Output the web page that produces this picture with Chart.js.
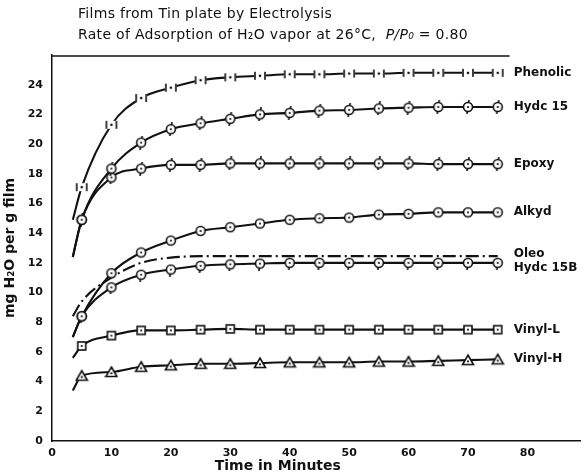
<!DOCTYPE html>
<html>
<head>
<meta charset="utf-8">
<script src="https://cdn.jsdelivr.net/npm/chart.js@4"></script>
<style>
  html, body { margin: 0; padding: 0; background: #fff; }
  #wrap { position: relative; width: 588px; height: 476px; }
  canvas { position: absolute; left: 0; top: 0; }
  .ttl { position: absolute; left: 78px; font-family: "DejaVu Sans", sans-serif; font-size: 14px; color: #111; white-space: nowrap; letter-spacing: 0.3px; }
</style>
</head>
<body>
<div id="wrap">
  <canvas id="c" width="588" height="476"></canvas>
  <div class="ttl" style="top:5px;">Films from Tin plate by Electrolysis</div>
  <div class="ttl" style="top:26px;">Rate of Adsorption of H₂O vapor at 26°C,&nbsp; <i>P/P₀</i> = 0.80</div>
</div>
<script>
// ---- data ----
const times    = [3.5, 5, 10, 15, 20, 25, 30, 35, 40, 45, 50, 55, 60, 65, 70, 75];
const phenolic = [14.9, 17.1, 21.3, 23.1, 23.8, 24.3, 24.5, 24.6, 24.7, 24.7, 24.75, 24.75, 24.8, 24.8, 24.8, 24.8];
const hydc15   = [12.4, 14.9, 18.35, 20.1, 21.0, 21.4, 21.7, 22.0, 22.1, 22.25, 22.3, 22.4, 22.45, 22.5, 22.5, 22.5];
const epoxy    = [12.4, 14.9, 17.75, 18.35, 18.6, 18.6, 18.7, 18.7, 18.7, 18.7, 18.7, 18.7, 18.7, 18.65, 18.65, 18.65];
const alkyd    = [7.0, 8.4, 11.3, 12.7, 13.5, 14.15, 14.4, 14.65, 14.9, 15.0, 15.05, 15.25, 15.3, 15.4, 15.4, 15.4];
const oleo     = [8.4, 9.4, 11.0, 12.0, 12.35, 12.45, 12.45, 12.45, 12.45, 12.45, 12.45, 12.45, 12.45, 12.45, 12.45, 12.45];
const hydc15b  = [7.0, 8.4, 10.35, 11.2, 11.55, 11.8, 11.9, 11.95, 12.0, 12.0, 12.0, 12.0, 12.0, 12.0, 12.0, 12.0];
const vinylL   = [5.6, 6.4, 7.1, 7.45, 7.45, 7.5, 7.55, 7.5, 7.5, 7.5, 7.5, 7.5, 7.5, 7.5, 7.5, 7.5];
const vinylH   = [3.4, 4.4, 4.65, 5.0, 5.1, 5.2, 5.2, 5.25, 5.3, 5.3, 5.3, 5.35, 5.35, 5.4, 5.45, 5.5];
const seriesNames = ["Phenolic", "Hydc 15", "Epoxy", "Alkyd", "Oleo", "Hydc 15B", "Vinyl-L", "Vinyl-H"];
const yTicks = [0, 2, 4, 6, 8, 10, 12, 14, 16, 18, 20, 22, 24];
const xTicks = [0, 10, 20, 30, 40, 50, 60, 70, 80];

// ---- styles ----
const INK = '#111';
const labelDy = [0, 0, 0, 0, -2, 5, 0, 0];

function makeIcon(kind) {
  const c = document.createElement('canvas');
  c.width = 14; c.height = 14;
  const g = c.getContext('2d');
  g.strokeStyle = INK; g.fillStyle = '#fff'; g.lineWidth = 1.6;
  const m = 7;
  if (kind === 'phen') {
    g.fillRect(1, 3, 12, 8);
    g.beginPath(); g.moveTo(2, 3); g.lineTo(2, 11); g.moveTo(12, 3); g.lineTo(12, 11); g.stroke();
    g.fillStyle = INK; g.beginPath(); g.arc(m, m, 1.3, 0, Math.PI * 2); g.fill();
    return c;
  }
  if (kind === 'square') {
    g.fillRect(3, 3, 8, 8); g.strokeRect(3, 3, 8, 8);
  } else if (kind === 'tri') {
    g.beginPath(); g.moveTo(m, 2); g.lineTo(12.5, 11.5); g.lineTo(1.5, 11.5); g.closePath(); g.fill(); g.stroke();
  } else {
    g.beginPath(); g.arc(m, m, 4.5, 0, Math.PI * 2); g.fill(); g.stroke();
    g.beginPath();
    if (kind === 'circTicks' || kind === 'circTickTop') { g.moveTo(m + 0.5, 2.5); g.lineTo(m + 1.2, 0); }
    if (kind === 'circTicks' || kind === 'circTickBottom') { g.moveTo(m - 0.5, 11.5); g.lineTo(m - 1.2, 14); }
    g.stroke();
  }
  g.fillStyle = INK; g.beginPath(); g.arc(m, kind === 'tri' ? 8.3 : m, 1.1, 0, Math.PI * 2); g.fill();
  return c;
}

const icons = {
  phen: makeIcon('phen'), circTicks: makeIcon('circTicks'), circ: makeIcon('circ'),
  circB: makeIcon('circTickBottom'), square: makeIcon('square'), tri: makeIcon('tri')
};

function ds(name, arr, icon, dash) {
  return {
    label: name,
    data: times.map((t, i) => ({ x: t, y: arr[i] })),
    borderColor: INK,
    backgroundColor: INK,
    borderWidth: 2.1,
    borderDash: dash || [],
    cubicInterpolationMode: 'monotone',
    pointStyle: ctx => (icon && ctx.dataIndex > 0) ? icon : false,
    pointRadius: icon ? 5 : 0,
    pointHoverRadius: icon ? 5 : 0
  };
}

const datasets = [
  ds(seriesNames[0], phenolic, icons.phen),
  ds(seriesNames[1], hydc15, icons.circTicks),
  ds(seriesNames[2], epoxy, icons.circTicks),
  ds(seriesNames[3], alkyd, icons.circ),
  ds(seriesNames[4], oleo, null, [13, 4, 2, 4]),
  ds(seriesNames[5], hydc15b, icons.circB),
  ds(seriesNames[6], vinylL, icons.square),
  ds(seriesNames[7], vinylH, icons.tri)
];

const FONT = '"DejaVu Sans", sans-serif';

const annotate = {
  id: 'annotate',
  afterDatasetsDraw(chart) {
    const { ctx, chartArea, scales } = chart;
    ctx.save();
    // top frame line
    ctx.strokeStyle = INK; ctx.lineWidth = 1.5;
    ctx.beginPath();
    ctx.moveTo(chartArea.left, chartArea.top + 1);
    ctx.lineTo(scales.x.getPixelForValue(77), chartArea.top + 1);
    ctx.stroke();
    // series end labels
    ctx.fillStyle = INK;
    ctx.font = 'bold 12px ' + FONT;
    ctx.textAlign = 'left'; ctx.textBaseline = 'middle';
    chart.data.datasets.forEach((d, i) => {
      const meta = chart.getDatasetMeta(i);
      const p = meta.data[meta.data.length - 1];
      ctx.fillText(seriesNames[i], p.x + 16, p.y + labelDy[i]);
    });
    // x axis title
    ctx.font = 'bold 14px ' + FONT;
    ctx.textAlign = 'center';
    ctx.fillText('Time in Minutes', scales.x.getPixelForValue(38), 466);
    ctx.restore();
  }
};

new Chart(document.getElementById('c'), {
  type: 'line',
  data: { datasets },
  plugins: [annotate],
  options: {
    responsive: false,
    devicePixelRatio: 1,
    animation: false,
    layout: { padding: { top: 55, right: 1, left: 0, bottom: 0 } },
    plugins: { legend: { display: false }, tooltip: { enabled: false }, title: { display: false } },
    scales: {
      x: {
        type: 'linear', min: 0, max: 89,
        afterFit: s => { s.height = 35; },
        afterBuildTicks: s => { s.ticks = xTicks.map(v => ({ value: v })); },
        ticks: { color: INK, font: { family: FONT, size: 11, weight: 'bold' }, padding: 6, maxRotation: 0,
                 callback: v => String(v) },
        grid: { display: false, drawTicks: false },
        border: { display: true, color: INK, width: 1.5 }
      },
      y: {
        type: 'linear', min: 0, max: 26,
        afterFit: s => { s.width = 52; },
        afterBuildTicks: s => { s.ticks = yTicks.map(v => ({ value: v })); },
        ticks: { color: INK, font: { family: FONT, size: 11, weight: 'bold' }, padding: 9,
                 callback: v => String(v) },
        grid: { display: false, drawTicks: false },
        border: { display: true, color: INK, width: 1.5 },
        title: { display: true, text: 'mg H₂O per g film', color: INK,
                 font: { family: FONT, size: 14, weight: 'bold' }, padding: { top: 2, bottom: 0 } }
      }
    }
  }
});
</script>
</body>
</html>
